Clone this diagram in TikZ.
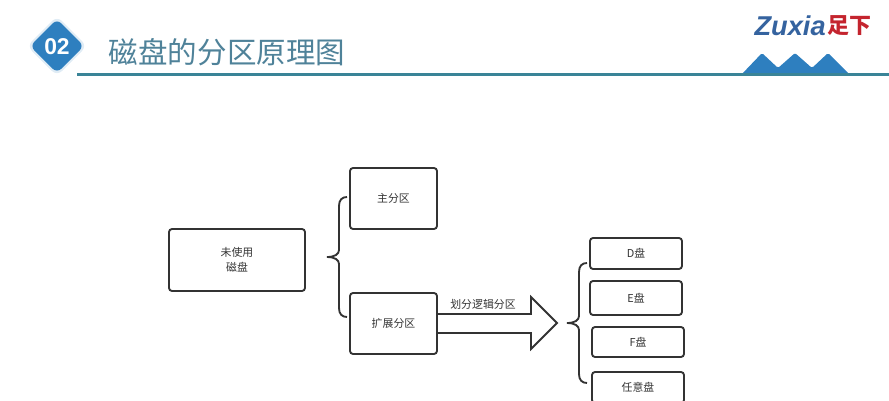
\documentclass[tikz,border=0pt]{standalone}
\usepackage{fontspec}
\setmainfont{Liberation Sans}
\newfontfamily\cjk{Noto Sans CJK SC}
\definecolor{headblue}{HTML}{2E7FBF}
\definecolor{headteal}{HTML}{3A8497}
\definecolor{titleblue}{HTML}{4F8299}
\definecolor{logoblue}{HTML}{35639F}
\definecolor{logored}{HTML}{C4242E}
\definecolor{boxline}{HTML}{333333}
\tikzset{
	pbox/.style={draw=boxline, line width=1.05pt, rounded corners=0.06cm, inner sep=0pt, align=center, text=boxline, font=\cjk\fontsize{6.2}{8.6}\selectfont},
	plabel/.style={inner sep=0pt, text=boxline, font=\cjk\fontsize{6.2}{8.6}\selectfont},
	pline/.style={draw=boxline, line width=1.05pt}
}
\def\openbrace(#1,#2)(#3){\draw[pline] ({#1+20},{#2-#3}) .. controls ({#1+15},{#2-#3}) and ({#1+12},{#2-#3+3}) .. ({#1+12},{#2-#3+9}) -- ({#1+12},{#2-7}) .. controls ({#1+12},{#2-3}) and ({#1+8},{#2}) .. (#1,#2) .. controls ({#1+8},{#2}) and ({#1+12},{#2+3}) .. ({#1+12},{#2+7}) -- ({#1+12},{#2+#3-9}) .. controls ({#1+12},{#2+#3-3}) and ({#1+15},{#2+#3}) .. ({#1+20},{#2+#3});}

\begin{document}
\begin{tikzpicture}[x=0.02cm,y=-0.02cm]
	\useasboundingbox (0, 0) rectangle (889, 400);
	\clip (0, 0) rectangle (889, 400);
	
	% header
	\fill[color=headblue!15, rounded corners=0.14cm] (57, 16) -- (87, 46) -- (57, 76) -- (27, 46) -- cycle;
	\fill[color=headblue, rounded corners=0.12cm] (57, 19) -- (84, 46) -- (57, 73) -- (30, 46) -- cycle;
	\node[text=white, inner sep=0pt, font=\bfseries\fontsize{13}{13}\selectfont] (num) at (57, 47) {02};
	\node[text=titleblue, inner sep=0pt, font=\cjk\fontsize{16.8}{20}\selectfont] (title) at (227, 52) {磁盘的分区原理图};
	\fill[color=headblue, rounded corners=0.03cm] (741, 75) -- (762, 53) -- (778, 68) -- (795, 53) -- (812, 68) -- (828, 53) -- (850, 75) -- cycle;
	\draw[color=headteal, line width=1.4pt] (77, 74.5) -- (889, 74.5);
	
	% logo
	\node[text=logoblue, inner sep=0pt, anchor=east, font=\bfseries\itshape\fontsize{15.5}{16}\selectfont] (zuxia) at (826, 26) {Zuxia};
	\node[text=logored, inner sep=0pt, anchor=west, font=\cjk\bfseries\fontsize{12.5}{14}\selectfont] (zuxiared) at (827, 26) {足下};
	
	% left part
	\node[pbox, minimum width=2.72cm, minimum height=1.24cm] (disk) at (237, 260) {未使用\\磁盘};
	\node[pbox, minimum width=1.74cm, minimum height=1.22cm] (primary) at (393.5, 198.5) {主分区};
	\node[pbox, minimum width=1.74cm, minimum height=1.22cm] (extended) at (393.5, 323.5) {扩展分区};
	\openbrace(327,257)(60)
	
	% arrow
	\draw[pline, line join=miter] (extended.east |- 0, 314) -- (531, 314) -- (531, 297) -- (557, 323) -- (531, 349) -- (531, 333) -- (extended.east |- 0, 333);
	\node[plabel] (split) at (483, 304) {划分逻辑分区};
	
	% right part
	\openbrace(567,323)(60)
	\node[pbox, minimum width=1.84cm, minimum height=0.62cm] (ddisk) at (636, 253.5) {D盘};
	\node[pbox, minimum width=1.84cm, minimum height=0.68cm] (edisk) at (636, 298) {E盘};
	\node[pbox, minimum width=1.84cm, minimum height=0.6cm] (fdisk) at (638, 342) {F盘};
	\node[pbox, minimum width=1.84cm, minimum height=0.62cm] (anydisk) at (638, 387.5) {任意盘};
\end{tikzpicture}
\end{document}
